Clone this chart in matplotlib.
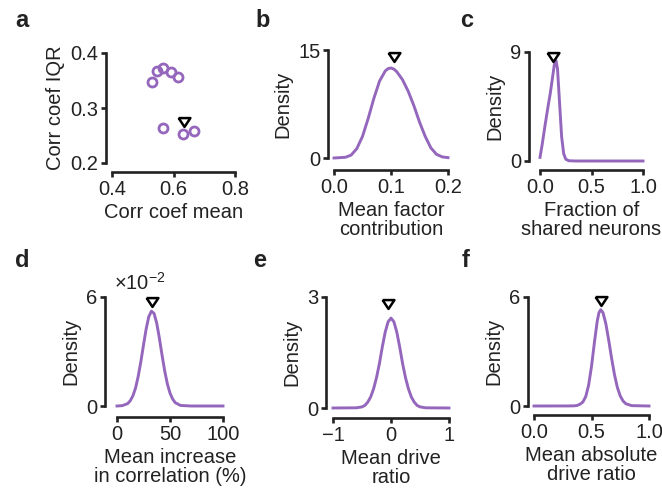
import numpy as np
import matplotlib
matplotlib.use("Agg")
import matplotlib.pyplot as plt

plt.rcParams['font.family'] = ['Liberation Sans', 'DejaVu Sans']
plt.rcParams['mathtext.fontset'] = 'custom'
plt.rcParams['mathtext.rm'] = 'Liberation Sans'
plt.rcParams['font.size'] = 14.5

purple = '#9467bd'
ink = '#222222'

# panel a: scatter of correlation stats
a_mean = [0.530, 0.546, 0.566, 0.592, 0.615, 0.566, 0.631, 0.667]
a_iqr = [0.347, 0.367, 0.373, 0.365, 0.356, 0.264, 0.253, 0.258]
a_mark = (0.634, 0.275)

# panel b: mean factor contribution density
b_x = [0, 0.02, 0.03, 0.04, 0.05, 0.06, 0.07, 0.08, 0.09, 0.095, 0.10, 0.105,
       0.11, 0.12, 0.13, 0.14, 0.15, 0.16, 0.17, 0.18, 0.19, 0.2]
b_y = [0, 0.1, 0.4, 1.3, 3.0, 5.5, 8.3, 10.7, 12.1, 12.42, 12.5, 12.35,
       12.0, 10.9, 9.3, 7.3, 5.0, 3.0, 1.4, 0.5, 0.15, 0.05]
b_mark = (0.106, 14.0)

# panel c: fraction of shared neurons
c_x = [0.0, 0.02, 0.05, 0.08, 0.10, 0.12, 0.14, 0.155, 0.17, 0.19, 0.21,
       0.23, 0.25, 0.28, 0.35, 0.5, 0.75, 1.0]
c_y = [0.3, 1.3, 3.0, 4.6, 5.6, 6.8, 8.0, 8.3, 7.6, 4.8, 2.0,
       0.6, 0.15, 0.02, 0, 0, 0, 0]
c_mark = (0.123, 8.6)

# panel d: mean increase in correlation (density x 1e-2)
d_x = [0, 5, 10, 12.5, 15, 17.5, 20, 22.5, 25, 27.5, 30, 32.5, 35, 37.5,
       40, 42.5, 45, 47.5, 50, 52.5, 55, 60, 70, 100]
d_y = [0, 0.02, 0.13, 0.29, 0.56, 0.99, 1.63, 2.44, 3.36, 4.24, 4.92, 5.22,
       5.09, 4.55, 3.73, 2.80, 1.93, 1.22, 0.71, 0.38, 0.18, 0.03, 0, 0]
d_mark = (33, 5.7)

# panel e: mean drive ratio
e_x = [-1, -0.6, -0.5, -0.45, -0.4, -0.35, -0.3, -0.25, -0.2, -0.15, -0.1,
       -0.05, 0, 0.05, 0.1, 0.15, 0.2, 0.25, 0.3, 0.35, 0.4, 0.45, 0.5, 0.6, 1]
e_y = [0, 0.005, 0.03, 0.07, 0.16, 0.30, 0.52, 0.82, 1.2, 1.65, 2.05,
       2.33, 2.43, 2.33, 2.05, 1.65, 1.2, 0.82, 0.52, 0.30, 0.16, 0.07, 0.03,
       0.005, 0]
e_mark = (-0.05, 2.82)

# panel f: mean absolute drive ratio
f_x = [0, 0.3, 0.35, 0.375, 0.4, 0.425, 0.45, 0.475, 0.5, 0.525, 0.55, 0.565,
       0.58, 0.6, 0.625, 0.65, 0.675, 0.7, 0.725, 0.75, 0.775, 0.8, 0.85, 1.0]
f_y = [0, 0.003, 0.01, 0.03, 0.1, 0.22, 0.52, 1.15, 2.18, 3.48, 4.68, 5.14,
       5.3, 5.14, 4.52, 3.61, 2.62, 1.72, 1.02, 0.55, 0.27, 0.12, 0.02, 0]
f_mark = (0.58, 5.76)

W, H = 662, 492
fig = plt.figure(figsize=(W / 100, H / 100), dpi=100)

tri = [(-1, 0.75), (1, 0.75), (0, -0.75), (-1, 0.75)]


def make_ax(x0, x1, y0, y1, offx, offy):
    ax = fig.add_axes([x0 / W, 1 - y1 / H, (x1 - x0) / W, (y1 - y0) / H])
    ax.spines['top'].set_visible(False)
    ax.spines['right'].set_visible(False)
    ax.spines['left'].set_position(('outward', offx / 1.389))
    ax.spines['bottom'].set_position(('outward', offy / 1.389))
    for s in ['left', 'bottom']:
        ax.spines[s].set_linewidth(1.9)
        ax.spines[s].set_color(ink)
    ax.tick_params(width=1.9, length=3.5, pad=2, labelsize=14.5,
                   color=ink, labelcolor=ink)
    ax.patch.set_alpha(0)
    return ax


def finish(ax, xt, xl, yt, yl, xlabel, ylabel):
    ax.set_xlim(xt[0], xt[-1])
    ax.set_ylim(yt[0], yt[-1])
    ax.set_xticks(xt)
    ax.set_xticklabels(xl)
    ax.set_yticks(yt)
    ax.set_yticklabels(yl)
    ax.spines['bottom'].set_bounds(xt[0], xt[-1])
    ax.spines['left'].set_bounds(yt[0], yt[-1])
    ax.set_xlabel(xlabel, labelpad=3, linespacing=0.98, color=ink)
    ax.set_ylabel(ylabel, labelpad=4, color=ink)


def mark(ax, m):
    ax.plot([m[0]], [m[1]], marker=tri, ms=8.5, mfc='white', mec='black',
            mew=1.8, clip_on=False, zorder=5)


# a
ax = make_ax(112, 235, 53, 163, 6, 9)
ax.plot(a_mean, a_iqr, 'o', ms=6.5, mfc='none', mec=purple, mew=2,
        clip_on=False)
mark(ax, a_mark)
finish(ax, [0.4, 0.6, 0.8], ['0.4', '0.6', '0.8'],
       [0.2, 0.3, 0.4], ['0.2', '0.3', '0.4'], 'Corr coef mean', 'Corr coef IQR')

# b
ax = make_ax(334, 448, 50, 158, 6, 12)
ax.plot(b_x, b_y, color=purple, lw=2.1, clip_on=False)
mark(ax, b_mark)
finish(ax, [0, 0.1, 0.2], ['0.0', '0.1', '0.2'], [0, 15], ['0', '15'],
       'Mean factor\ncontribution', 'Density')

# c
ax = make_ax(540, 643, 52, 161, 11, 9)
ax.plot(c_x, c_y, color=purple, lw=2.1, clip_on=False)
mark(ax, c_mark)
finish(ax, [0, 0.5, 1], ['0.0', '0.5', '1.0'], [0, 9], ['0', '9'],
       'Fraction of\nshared neurons', 'Density')

# d
ax = make_ax(117, 223, 297, 406, 12, 11)
ax.plot(d_x, d_y, color=purple, lw=2.1, clip_on=False)
mark(ax, d_mark)
finish(ax, [0, 50, 100], ['0', '50', '100'], [0, 6], ['0', '6'],
       'Mean increase\nin correlation (%)', 'Density')
fig.text(114 / W, 1 - 290 / H, r'×10$^{-2}$', fontsize=14.5, ha='left',
         va='baseline', color=ink)

# e
ax = make_ax(333, 449, 297, 408, 7, 10)
ax.plot(e_x, e_y, color=purple, lw=2.1, clip_on=False)
mark(ax, e_mark)
finish(ax, [-1, 0, 1], ['\u22121', '0', '1'], [0, 3], ['0', '3'],
       'Mean drive\nratio', 'Density')

# f
ax = make_ax(534, 649, 297, 406, 6, 9)
ax.plot(f_x, f_y, color=purple, lw=2.1, clip_on=False)
mark(ax, f_mark)
finish(ax, [0, 0.5, 1], ['0.0', '0.5', '1.0'], [0, 6], ['0', '6'],
       'Mean absolute\ndrive ratio', 'Density')

# panel letters
letters = ['a', 'b', 'c', 'd', 'e', 'f']
lx = [15, 255, 460, 15, 253, 462]
ly = [27, 27, 27, 267, 267, 267]
for t, x, y in zip(letters, lx, ly):
    fig.text(x / W, 1 - y / H, t, fontsize=17, fontweight='bold',
             ha='left', va='baseline', color=ink)

fig.savefig('out.png', dpi=100)
